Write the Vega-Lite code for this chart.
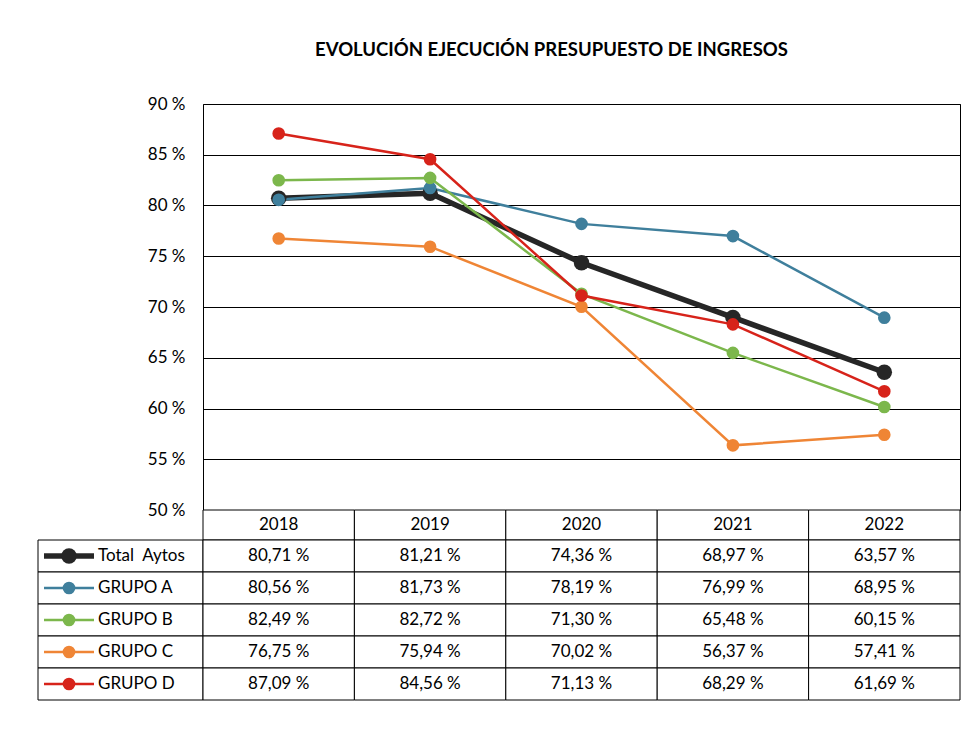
{
  "$schema": "https://vega.github.io/schema/vega-lite/v6.json",
  "padding": {"left": 37, "top": 40, "right": 20, "bottom": 46},
  "background": "white",
  "config": {
    "font": "Lato",
    "view": {"stroke": null},
    "locale": {"number": {"decimal": ",", "thousands": ".", "grouping": [3], "currency": ["", " €"], "percent": " %"}}
  },
  "datasets": {
    "vals": [
      {"series": "Total\u00a0 Aytos", "year": "2018", "value": 0.8071},
      {"series": "Total\u00a0 Aytos", "year": "2019", "value": 0.8121},
      {"series": "Total\u00a0 Aytos", "year": "2020", "value": 0.7436},
      {"series": "Total\u00a0 Aytos", "year": "2021", "value": 0.6897},
      {"series": "Total\u00a0 Aytos", "year": "2022", "value": 0.6357},
      {"series": "GRUPO A", "year": "2018", "value": 0.8056},
      {"series": "GRUPO A", "year": "2019", "value": 0.8173},
      {"series": "GRUPO A", "year": "2020", "value": 0.7819},
      {"series": "GRUPO A", "year": "2021", "value": 0.7699},
      {"series": "GRUPO A", "year": "2022", "value": 0.6895},
      {"series": "GRUPO B", "year": "2018", "value": 0.8249},
      {"series": "GRUPO B", "year": "2019", "value": 0.8272},
      {"series": "GRUPO B", "year": "2020", "value": 0.7130},
      {"series": "GRUPO B", "year": "2021", "value": 0.6548},
      {"series": "GRUPO B", "year": "2022", "value": 0.6015},
      {"series": "GRUPO C", "year": "2018", "value": 0.7675},
      {"series": "GRUPO C", "year": "2019", "value": 0.7594},
      {"series": "GRUPO C", "year": "2020", "value": 0.7002},
      {"series": "GRUPO C", "year": "2021", "value": 0.5637},
      {"series": "GRUPO C", "year": "2022", "value": 0.5741},
      {"series": "GRUPO D", "year": "2018", "value": 0.8709},
      {"series": "GRUPO D", "year": "2019", "value": 0.8456},
      {"series": "GRUPO D", "year": "2020", "value": 0.7113},
      {"series": "GRUPO D", "year": "2021", "value": 0.6829},
      {"series": "GRUPO D", "year": "2022", "value": 0.6169}
    ],
    "series": [
      {"series": "Total\u00a0 Aytos"},
      {"series": "GRUPO A"},
      {"series": "GRUPO B"},
      {"series": "GRUPO C"},
      {"series": "GRUPO D"}
    ],
    "years": [
      {"year": "2018"}, {"year": "2019"}, {"year": "2020"}, {"year": "2021"}, {"year": "2022"}
    ]
  },
  "bounds": "flush",
  "align": "each",
  "columns": 2,
  "spacing": 0,
  "concat": [
    {
      "width": 165, "height": 406,
      "data": {"values": [{}]},
      "mark": {"type": "text"},
      "encoding": {"text": {"value": ""}}
    },
    {
      "width": 757, "height": 406,
      "data": {"name": "vals"},
      "view": {"stroke": "black", "strokeWidth": 1},
      "title": {"text": "EVOLUCIÓN EJECUCIÓN PRESUPUESTO DE INGRESOS", "anchor": "middle", "dx": -30, "offset": 36, "fontSize": 18.5, "fontWeight": "bold", "font": "Lato", "color": "black"},
      "encoding": {
        "x": {"field": "year", "type": "ordinal", "axis": null},
        "y": {"field": "value", "type": "quantitative",
              "scale": {"domain": [0.5, 0.9], "nice": false, "zero": false},
              "axis": {"values": [0.5, 0.55, 0.6, 0.65, 0.7, 0.75, 0.8, 0.85, 0.9], "format": ".0%", "grid": true, "gridColor": "black", "gridOpacity": 1, "gridWidth": 1, "domain": false, "ticks": false, "labelPadding": 18, "labelFontSize": 17, "labelColor": "black", "labelFont": "Lato", "title": null}},
        "color": {"field": "series", "type": "nominal",
                  "scale": {"domain": ["Total\u00a0 Aytos", "GRUPO A", "GRUPO B", "GRUPO C", "GRUPO D"], "range": ["#262626", "#3F7F9C", "#7CB74C", "#EF8535", "#D7231A"]},
                  "legend": null}
      },
      "layer": [
        {"mark": {"type": "line"},
         "encoding": {"strokeWidth": {"field": "series", "type": "nominal", "scale": {"type": "ordinal", "domain": ["Total\u00a0 Aytos", "GRUPO A", "GRUPO B", "GRUPO C", "GRUPO D"], "range": [5.5, 2.5, 2.5, 2.5, 2.5]}, "legend": null}}},
        {"mark": {"type": "point", "filled": true, "opacity": 1},
         "encoding": {"size": {"field": "series", "type": "nominal", "scale": {"type": "ordinal", "domain": ["Total\u00a0 Aytos", "GRUPO A", "GRUPO B", "GRUPO C", "GRUPO D"], "range": [240, 160, 160, 160, 160]}, "legend": null}}}
      ]
    },
    {
      "width": 165, "height": 30,
      "data": {"values": [{}]},
      "mark": {"type": "text"},
      "encoding": {"text": {"value": ""}}
    },
    {
      "width": 757, "height": 30,
      "data": {"name": "years"},
      "encoding": {"x": {"field": "year", "type": "ordinal", "scale": {"paddingInner": 0, "paddingOuter": 0}, "axis": null}},
      "layer": [
        {"mark": {"type": "rect", "fill": "white", "stroke": "black", "strokeWidth": 1}},
        {"mark": {"type": "text", "fontSize": 17, "font": "Lato", "fill": "black"}, "encoding": {"text": {"field": "year"}}}
      ]
    },
    {
      "width": 165, "height": 160,
      "data": {"name": "series"},
      "encoding": {
        "y": {"field": "series", "type": "nominal", "scale": {"domain": ["Total\u00a0 Aytos", "GRUPO A", "GRUPO B", "GRUPO C", "GRUPO D"], "paddingInner": 0, "paddingOuter": 0}, "axis": null}
      },
      "layer": [
        {"mark": {"type": "rect", "fill": "white", "stroke": "black", "strokeWidth": 1}},
        {"mark": {"type": "rule"},
         "encoding": {
           "x": {"value": 6}, "x2": {"value": 56},
           "color": {"field": "series", "type": "nominal", "scale": {"domain": ["Total\u00a0 Aytos", "GRUPO A", "GRUPO B", "GRUPO C", "GRUPO D"], "range": ["#262626", "#3F7F9C", "#7CB74C", "#EF8535", "#D7231A"]}, "legend": null},
           "strokeWidth": {"field": "series", "type": "nominal", "scale": {"type": "ordinal", "domain": ["Total\u00a0 Aytos", "GRUPO A", "GRUPO B", "GRUPO C", "GRUPO D"], "range": [5, 2.5, 2.5, 2.5, 2.5]}, "legend": null}
         }},
        {"mark": {"type": "point", "filled": true, "opacity": 1},
         "encoding": {
           "x": {"value": 31},
           "color": {"field": "series", "type": "nominal", "scale": {"domain": ["Total\u00a0 Aytos", "GRUPO A", "GRUPO B", "GRUPO C", "GRUPO D"], "range": ["#262626", "#3F7F9C", "#7CB74C", "#EF8535", "#D7231A"]}, "legend": null},
           "size": {"field": "series", "type": "nominal", "scale": {"type": "ordinal", "domain": ["Total\u00a0 Aytos", "GRUPO A", "GRUPO B", "GRUPO C", "GRUPO D"], "range": [150, 120, 120, 120, 120]}, "legend": null}
         }},
        {"mark": {"type": "text", "align": "left", "fontSize": 17, "font": "Lato", "fill": "black"},
         "encoding": {"x": {"value": 60}, "text": {"field": "series"}}}
      ]
    },
    {
      "width": 757, "height": 160,
      "data": {"name": "vals"},
      "encoding": {
        "x": {"field": "year", "type": "ordinal", "scale": {"paddingInner": 0, "paddingOuter": 0}, "axis": null},
        "y": {"field": "series", "type": "nominal", "scale": {"domain": ["Total\u00a0 Aytos", "GRUPO A", "GRUPO B", "GRUPO C", "GRUPO D"], "paddingInner": 0, "paddingOuter": 0}, "axis": null}
      },
      "layer": [
        {"mark": {"type": "rect", "fill": "white", "stroke": "black", "strokeWidth": 1}},
        {"mark": {"type": "text", "fontSize": 17, "font": "Lato", "fill": "black"},
         "encoding": {"text": {"field": "value", "type": "quantitative", "format": ".2%"}}}
      ]
    }
  ]
}
